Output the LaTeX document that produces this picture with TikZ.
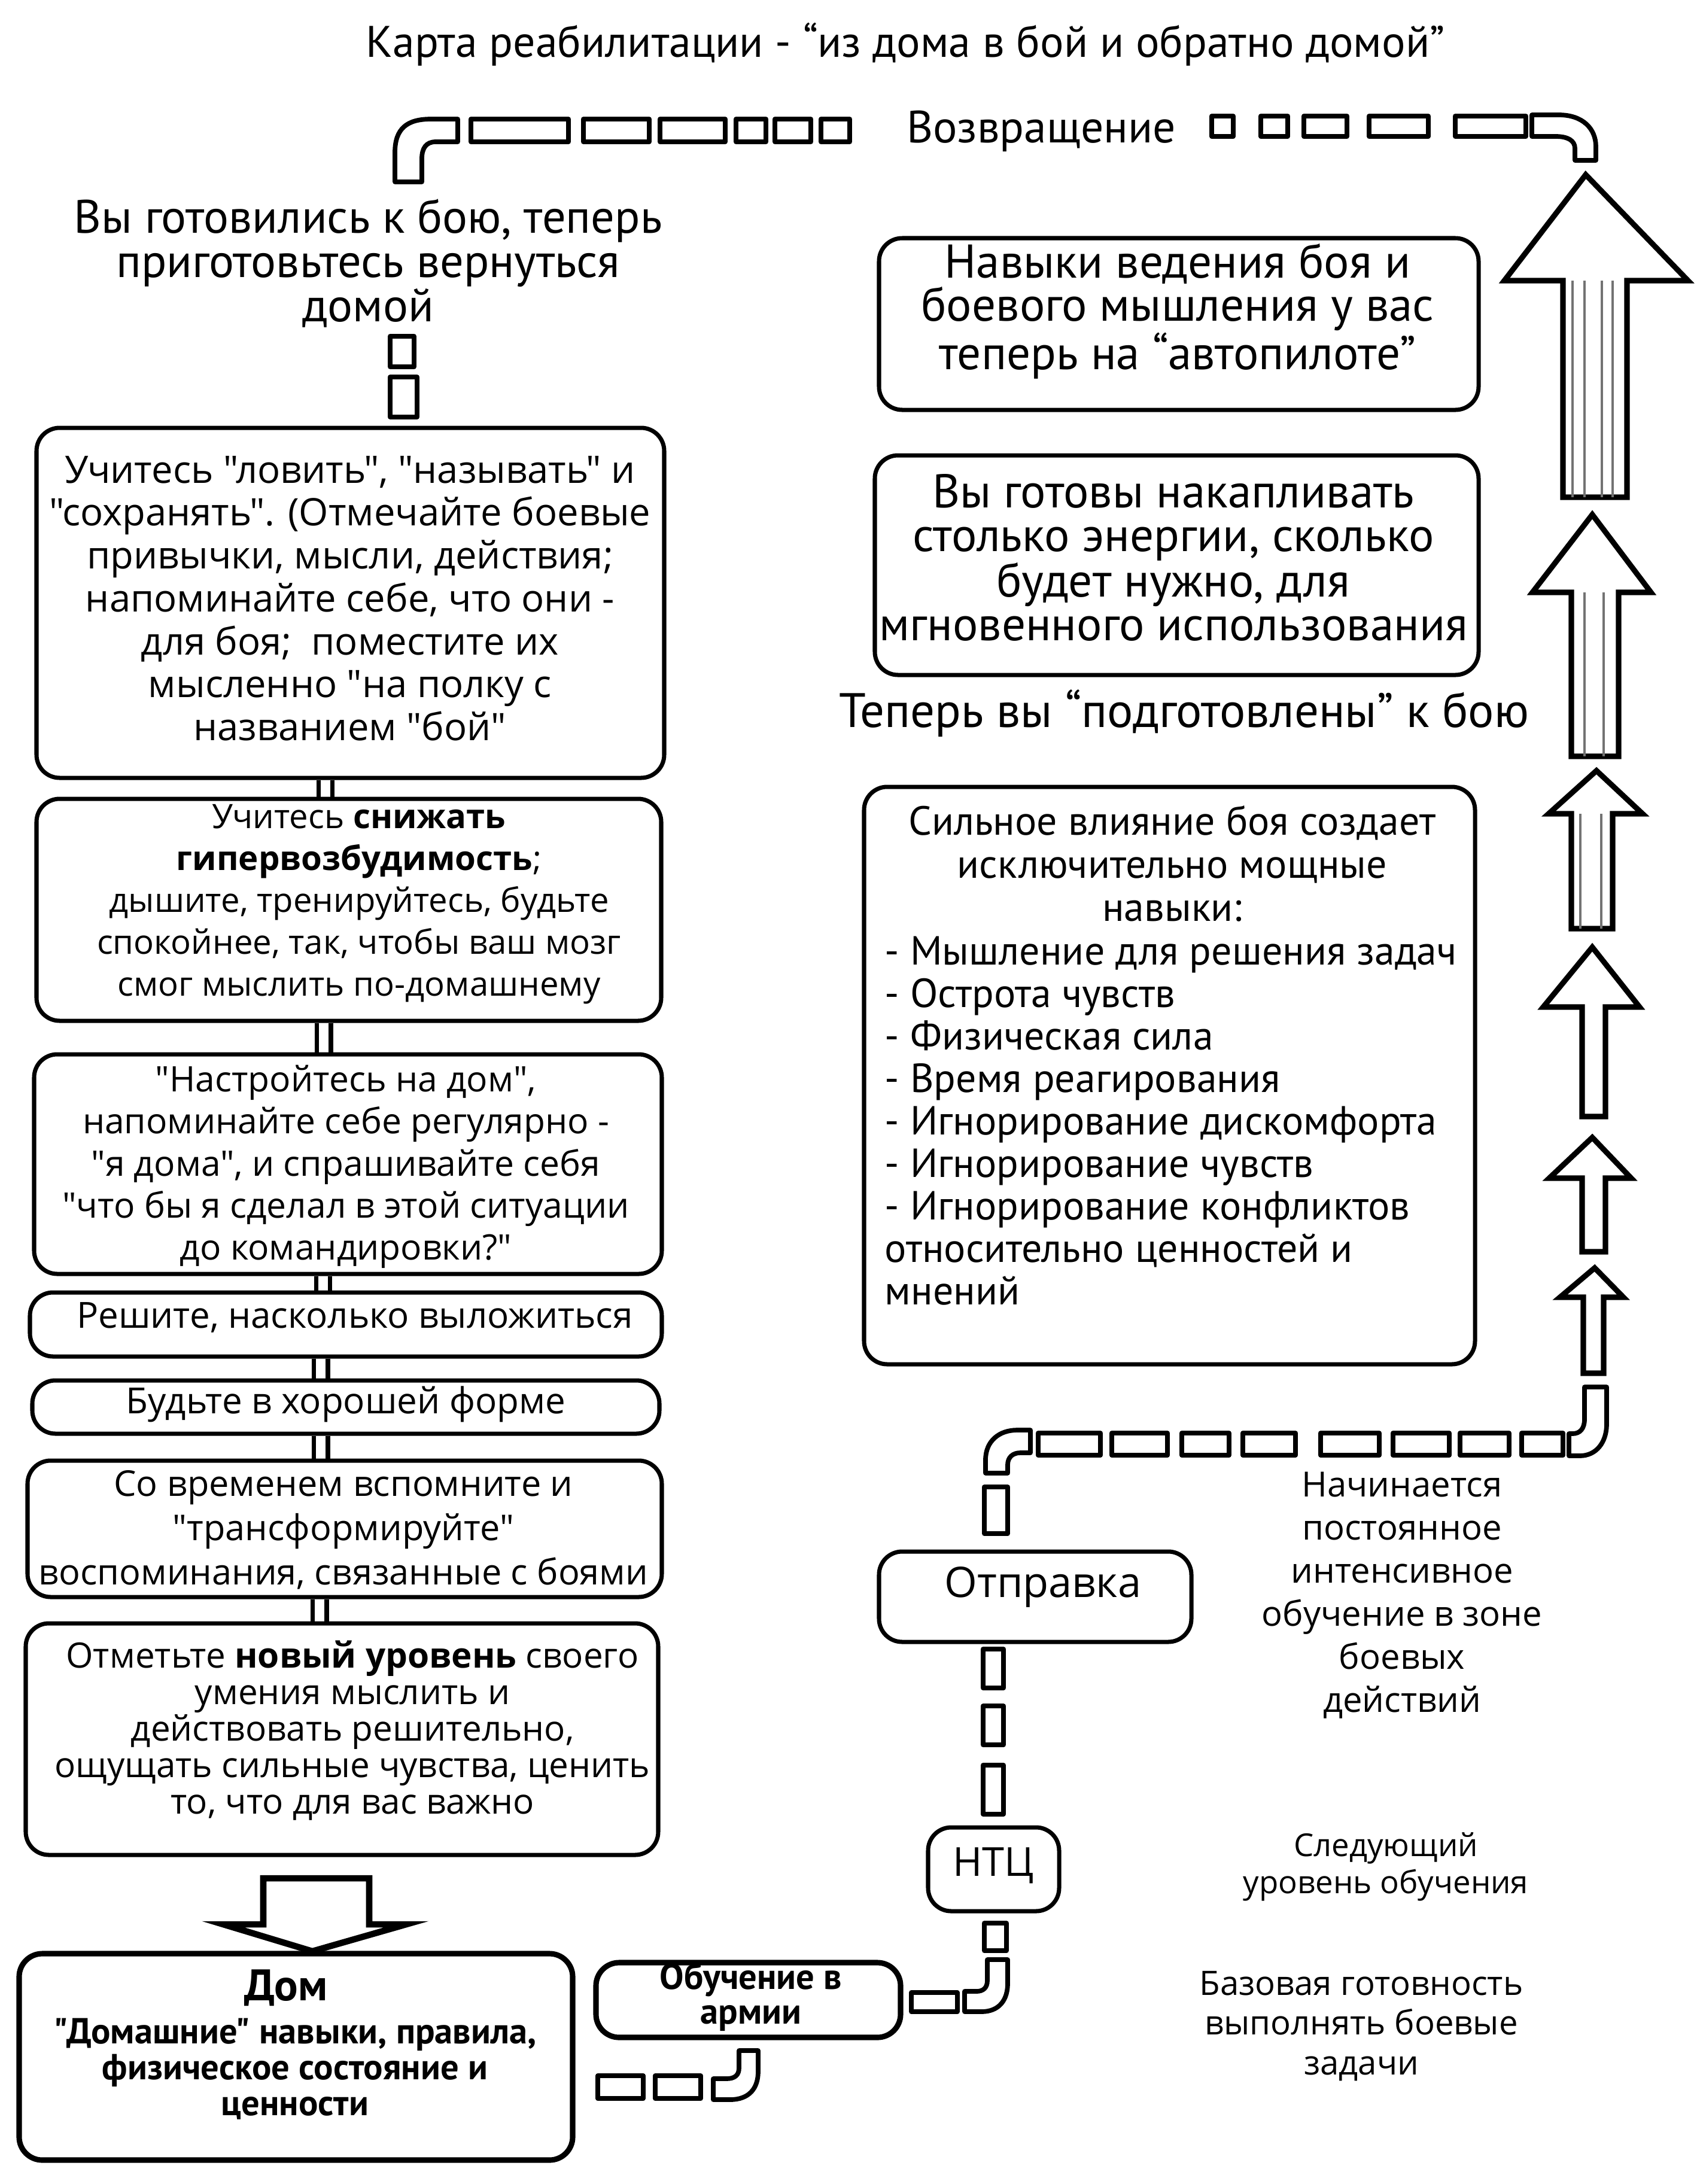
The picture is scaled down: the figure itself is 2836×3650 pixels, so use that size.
\documentclass[tikz,border=0pt]{standalone}
\usepackage{fontspec}
\setmainfont{Open Sans}[Ligatures=TeXOff]
\newfontfamily\cond{PT Sans}[Ligatures=TeXOff]
\usetikzlibrary{fit}
\newcommand\fs[2]{\fontsize{#1pt}{#2pt}\selectfont}
\newcommand\UpArr[8]{\draw[arrline] (#6,#8) -- (#6,#5) -- (#3,#5) -- (#1,#2) -- (#4,#5) -- (#7,#5) -- (#7,#8) -- cycle;}
\tikzset{
  box/.style={draw, line width=2pt, rounded corners=11pt, inner sep=0pt},
  pipe/.style={draw, line width=2.2pt, line join=round},
  arrline/.style={draw, line width=2.6pt, line join=miter},
  stripe/.style={line width=1.4pt, black!55},
  link/.style={line width=2pt},
  txt/.style={align=center, inner sep=0pt},
}
\begin{document}
\begin{tikzpicture}[x=0.01cm,y=-0.01cm]
\useasboundingbox (0,0) rectangle (2836,3650);
\fill[white] (0,0) rectangle (2836,3650);

% title and top return pipe
\node[txt, font=\cond\fs{21}{25}] (title) at (1513,74) {Карта реабилитации - “из дома в бой и обратно домой”};
\node[txt, font=\cond\fs{21.5}{25}] (ret) at (1740,219) {Возвращение};
\draw[pipe] (660,304) -- (660,255) .. controls (660,215) and (680,199) .. (720,199) -- (765,199) -- (765,237) -- (728,237) .. controls (712,237) and (705,248) .. (705,265) -- (705,304) -- cycle;
\foreach \a/\b in {787/950, 975/1085, 1103/1212, 1230/1280, 1295/1355, 1372/1420}
  \draw[pipe] (\a,199) rectangle (\b,237);
\foreach \a/\b in {2025/2061, 2107/2152, 2179/2251, 2288/2387, 2432/2550}
  \draw[pipe] (\a,194) rectangle (\b,228);
\draw[pipe] (2560,192) -- (2605,192) .. controls (2645,192) and (2667,215) .. (2667,245) -- (2667,268) -- (2632,268) -- (2632,248) .. controls (2632,235) and (2620,228) .. (2600,228) -- (2560,228) -- cycle;

% left column
\node[txt, font=\cond\fs{22.3}{21}] (prep) at (615,440) {Вы готовились к бою, теперь\\приготовьтесь вернуться\\домой};
\draw[pipe] (652,562) rectangle (692,613);
\draw[pipe] (652,630) rectangle (697,697);

\node[box, fit={(61,715) (1110,1300)}] (b1) {};
\node[txt, font=\fs{18}{20.4}] (t1) at (585,1000) {Учитесь "ловить", "называть" и\\"сохранять". (Отмечайте боевые\\привычки, мысли, действия;\\напоминайте себе, что они -\\для боя;\ \ поместите их\\мысленно "на полку с\\названием "бой"};

\node[box, fit={(61,1335) (1105,1706)}] (b2) {};
\node[txt, font=\fs{16}{19.9}] (t2) at (600,1511) {Учитесь \textbf{снижать}\\\textbf{гипервозбудимость};\\дышите, тренируйтесь, будьте\\спокойнее, так, чтобы ваш мозг\\смог мыслить по-домашнему};

\node[box, fit={(57,1762) (1106,2129)}] (b3) {};
\node[txt, font=\fs{16.7}{20}] (t3) at (578,1950) {"Настройтесь на дом",\\напоминайте себе регулярно -\\"я дома", и спрашивайте себя\\"что бы я сделал в этой ситуации\\до командировки?"};

\node[box, fit={(50,2160) (1106,2267)}] (b4) {};
\node[txt, font=\fs{17.1}{21}] (t4) at (593,2202) {Решите, насколько выложиться};

\node[box, fit={(54,2307) (1102,2396)}] (b5) {};
\node[txt, font=\fs{17.1}{21}] (t5) at (578,2347) {Будьте в хорошей форме};

\node[box, fit={(46,2441) (1106,2669)}] (b6) {};
\node[txt, font=\fs{16.9}{21}] (t6) at (574,2557) {Со временем вспомните и\\"трансформируйте"\\воспоминания, связанные с боями};

\node[box, fit={(43,2713) (1100,3100)}] (b7) {};
\node[txt, font=\fs{16.6}{17.4}] (t7) at (589,2892) {Отметьте \textbf{новый уровень} своего\\умения мыслить и\\действовать решительно,\\ощущать сильные чувства, ценить\\то, что для вас важно};

\foreach \u/\v in {b1/b2,b2/b3,b3/b4,b4/b5,b5/b6,b6/b7} {
  \draw[link] ([xshift=-0.53cm]\u.south) -- ([xshift=-0.53cm]\u.south |- \v.north);
  \draw[link] ([xshift=-0.3cm]\u.south) -- ([xshift=-0.3cm]\u.south |- \v.north);
}

% down arrow to home
\draw[arrline, line width=3pt] (440,3139) -- (617,3139) -- (617,3216) -- (679,3216) -- (522,3261) -- (373,3216) -- (440,3216) -- cycle;

\node[box, line width=2.6pt, fit={(32,3265) (957,3610)}] (dom) {};
\node[txt, font=\cond\bfseries\fs{21}{24}] (domt) at (478,3322) {Дом};
\node[txt, font=\cond\bfseries\fs{17.2}{17}] (domd) at (493,3458) {"Домашние" навыки, правила,\\физическое состояние и\\ценности};

\node[box, line width=2.6pt, fit={(996,3280) (1505,3405)}] (army) {};
\node[txt, font=\cond\bfseries\fs{17.2}{16.5}] (armyt) at (1255,3338) {Обучение в\\армии};

% bottom pipe from home
\draw[pipe] (999,3469) rectangle (1075,3507);
\draw[pipe] (1095,3469) rectangle (1171,3507);
\draw[pipe] (1192,3509) -- (1220,3509) .. controls (1252,3509) and (1267,3490) .. (1267,3462) -- (1267,3427) -- (1235,3427) -- (1235,3456) .. controls (1235,3468) and (1228,3474) .. (1214,3474) -- (1192,3474) -- cycle;

% pipe army -> NTC
\draw[pipe] (1523,3330) rectangle (1600,3362);
\draw[pipe] (1612,3362) -- (1640,3362) .. controls (1670,3362) and (1684,3342) .. (1684,3315) -- (1684,3275) -- (1650,3275) -- (1650,3310) .. controls (1650,3322) and (1643,3328) .. (1632,3328) -- (1612,3328) -- cycle;
\draw[pipe] (1645,3214) rectangle (1682,3260);

\node[box, fit={(1551,3054) (1770,3194)}] (ntc) {};
\node[txt, font=\fs{19}{22}] (ntct) at (1660,3118) {НТЦ};

\draw[pipe] (1643,2756) rectangle (1677,2821);
\draw[pipe] (1643,2851) rectangle (1677,2916);
\draw[pipe] (1643,2950) rectangle (1677,3032);

\node[box, fit={(1469,2593) (1991,2744)}] (dep) {};
\node[txt, font=\fs{20}{24}] (dept) at (1743,2652) {Отправка};

% pipe from departure to arrows
\draw[pipe] (1645,2485) rectangle (1684,2563);
\draw[pipe] (1647,2462) -- (1647,2440) .. controls (1647,2408) and (1670,2390) .. (1700,2390) -- (1722,2390) -- (1722,2428) -- (1705,2428) .. controls (1692,2428) and (1684,2436) .. (1684,2448) -- (1684,2462) -- cycle;
\foreach \a/\b in {1735/1839, 1858/1951, 1975/2054, 2077/2165, 2207/2305, 2328/2422, 2440/2522, 2543/2612}
  \draw[pipe] (\a,2395) rectangle (\b,2432);
\draw[pipe] (2622,2433) -- (2640,2433) .. controls (2668,2433) and (2685,2410) .. (2685,2380) -- (2685,2318) -- (2648,2318) -- (2648,2372) .. controls (2648,2388) and (2640,2396) .. (2628,2396) -- (2622,2396) -- cycle;

% right column boxes
\node[box, fit={(1469,398) (2471,685)}] (r1) {};
\node[txt, font=\cond\fs{22.5}{20.5}] (r1t) at (1968,520) {Навыки ведения боя и\\боевого мышления у вас\\теперь на “автопилоте”};

\node[box, fit={(1462,761) (2471,1128)}] (r2) {};
\node[txt, font=\cond\fs{22.5}{20.6}] (r2t) at (1961,932) {Вы готовы накапливать\\столько энергии, сколько\\будет нужно, для\\мгновенного использования};

\node[txt, font=\cond\fs{23}{25}] (ready) at (1979,1192) {Теперь вы “подготовлены” к бою};

\node[box, fit={(1444,1315) (2465,2280)}] (r3) {};
\node[txt, font=\cond\fs{19.3}{20.5}] (r3h) at (1959,1443) {Сильное влияние боя создает\\исключительно мощные\\навыки:};
\node[inner sep=0pt, align=left, anchor=west, font=\cond\fs{19.3}{20.2}] (r3l) at (1478,1873) {- Мышление для решения задач\\- Острота чувств\\- Физическая сила\\- Время реагирования\\- Игнорирование дискомфорта\\- Игнорирование чувств\\- Игнорирование конфликтов\\относительно ценностей и\\мнений};

% right arrows
\UpArr{2650}{292}{2514}{2821}{469}{2612}{2719}{831}
\foreach \x in {2628,2648,2677,2695} \draw[stripe] (\x,469) -- (\x,831);
\UpArr{2661}{860}{2561}{2759}{990}{2626}{2705}{1264}
\foreach \x in {2648,2680} \draw[stripe] (\x,990) -- (\x,1264);
\UpArr{2668}{1288}{2588}{2745}{1360}{2626}{2695}{1552}
\foreach \x in {2641,2676} \draw[stripe] (\x,1360) -- (\x,1552);
\UpArr{2661}{1583}{2579}{2740}{1683}{2644}{2683}{1866}
\UpArr{2661}{1901}{2589}{2726}{1969}{2644}{2683}{2092}
\UpArr{2665}{2119}{2607}{2713}{2168}{2646}{2680}{2295}

% right side texts
\node[txt, font=\fs{16.5}{20.5}] (combat) at (2343,2666) {Начинается\\постоянное\\интенсивное\\обучение в зоне\\боевых\\действий};
\node[txt, font=\fs{15}{17.6}] (next) at (2316,3120) {Следующий\\уровень обучения};
\node[txt, font=\fs{16}{19}] (basic) at (2275,3386) {Базовая готовность\\выполнять боевые\\задачи};
\end{tikzpicture}
\end{document}
